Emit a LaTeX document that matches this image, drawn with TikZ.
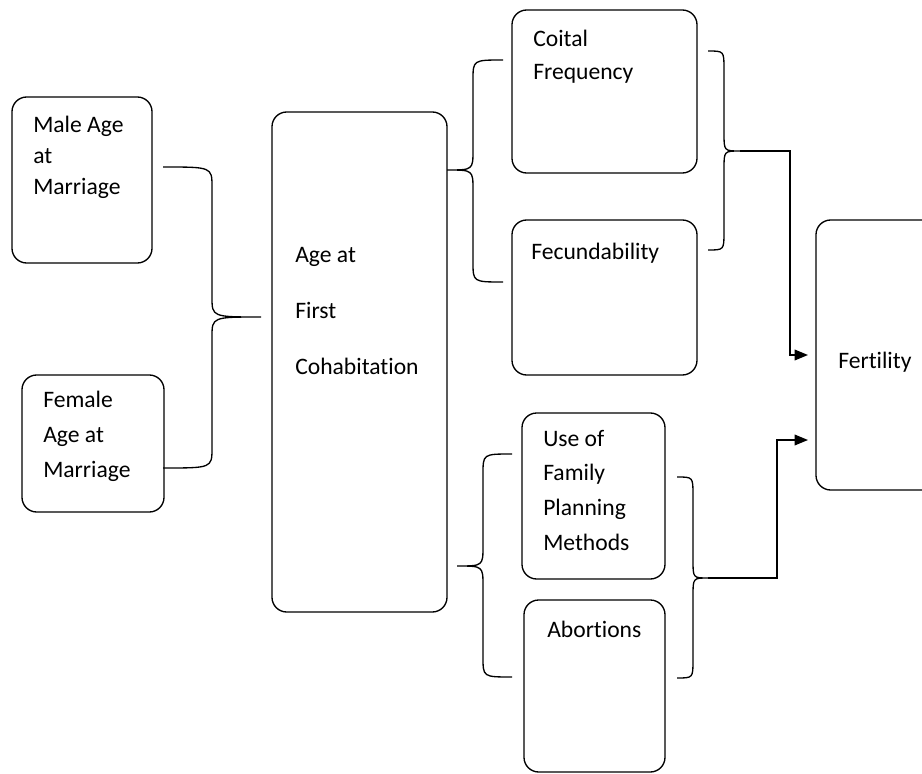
\documentclass[tikz,border=0pt]{standalone}
\usepackage{fontspec}
\setmainfont{Carlito}[Ligatures=NoCommon]
\usetikzlibrary{arrows.meta}

\tikzset{
  box/.style={draw, line width=1pt, rounded corners=11pt, inner sep=0pt},
  txt/.style={anchor=base west, inner sep=0pt, align=left, font=\fontsize{17.7}{25}\selectfont},
  brc/.style={line width=1pt},
  flow/.style={line width=1pt, -{Triangle[length=10pt,width=8pt]}}
}

\begin{document}
\begin{tikzpicture}[x=0.75pt,y=0.75pt,yscale=-1,xscale=1]
\clip (0,0) rectangle (922,774);

% Boxes
\node[box, minimum width=105pt, minimum height=124.5pt] (male) at (82,180) {};
\node[box, minimum width=106.5pt, minimum height=102.75pt] (female) at (93,443.5) {};
\node[box, minimum width=131.25pt, minimum height=375pt] (cohab) at (359.5,362) {};
\node[box, minimum width=138.75pt, minimum height=122.25pt] (coital) at (604.5,91.5) {};
\node[box, minimum width=138.75pt, minimum height=116.25pt] (fecund) at (604.5,297.5) {};
\node[box, minimum width=107.25pt, minimum height=124.5pt] (famplan) at (593.5,496) {};
\node[box, minimum width=105.75pt, minimum height=129pt] (abort) at (594.5,686) {};
\node[box, minimum width=108pt, minimum height=202.5pt] (fert) at (888,355) {};

% Text (base = last line)
\node[txt, font=\fontsize{17.7}{23.6}\selectfont] (male-t) at (33,195) {Male Age\\at\\Marriage};
\node[txt, font=\fontsize{17.7}{26}\selectfont] (female-t) at (43,477) {Female\\Age at\\Marriage};
\node[txt, font=\fontsize{17.7}{42}\selectfont] (cohab-t) at (295,374) {Age at\\First\\Cohabitation};
\node[txt] (coital-t) at (533,80) {Coital\\Frequency};
\node[txt] (fecund-t) at (531,259) {Fecundability};
\node[txt, font=\fontsize{17.7}{26}\selectfont] (famplan-t) at (543,550) {Use of\\Family\\Planning\\Methods};
\node[txt] (abort-t) at (547,637) {Abortions};
\node[txt] (fert-t) at (838,368) {Fertility};

% Braces
\draw[brc] (163,167) .. controls (212,167) .. (212,187) -- (212,297) .. controls (212,317) .. (261,317) .. controls (212,317) .. (212,337) -- (212,448) .. controls (212,468) .. (163,468);
\draw[brc] (503,60) .. controls (473,60) .. (473,80) -- (473,150) .. controls (473,170) .. (447,170) .. controls (473,170) .. (473,190) -- (473,262) .. controls (473,282) .. (503,282);
\draw[brc] (708,51) .. controls (724,51) .. (724,69) -- (724,133) .. controls (724,151) .. (740,151) .. controls (724,151) .. (724,169) -- (724,232) .. controls (724,250) .. (708,250);
\draw[brc] (512,454) .. controls (483,454) .. (483,474) -- (483,546) .. controls (483,566) .. (457,566) .. controls (483,566) .. (483,586) -- (483,657) .. controls (483,677) .. (512,677);
\draw[brc] (677,477) .. controls (693,477) .. (693,495) -- (693,560) .. controls (693,578) .. (708,578) .. controls (693,578) .. (693,596) -- (693,660) .. controls (693,678) .. (677,678);

% Arrows to fertility
\coordinate (tipA) at (740,151);
\coordinate (tipB) at (708,578);
\coordinate (inA) at (808,355);
\coordinate (inB) at (808,440);
\draw[flow] (tipA) -| (790,355) -- (inA);
\draw[flow] (tipB) -| (777,440) -- (inB);

\end{tikzpicture}
\end{document}
